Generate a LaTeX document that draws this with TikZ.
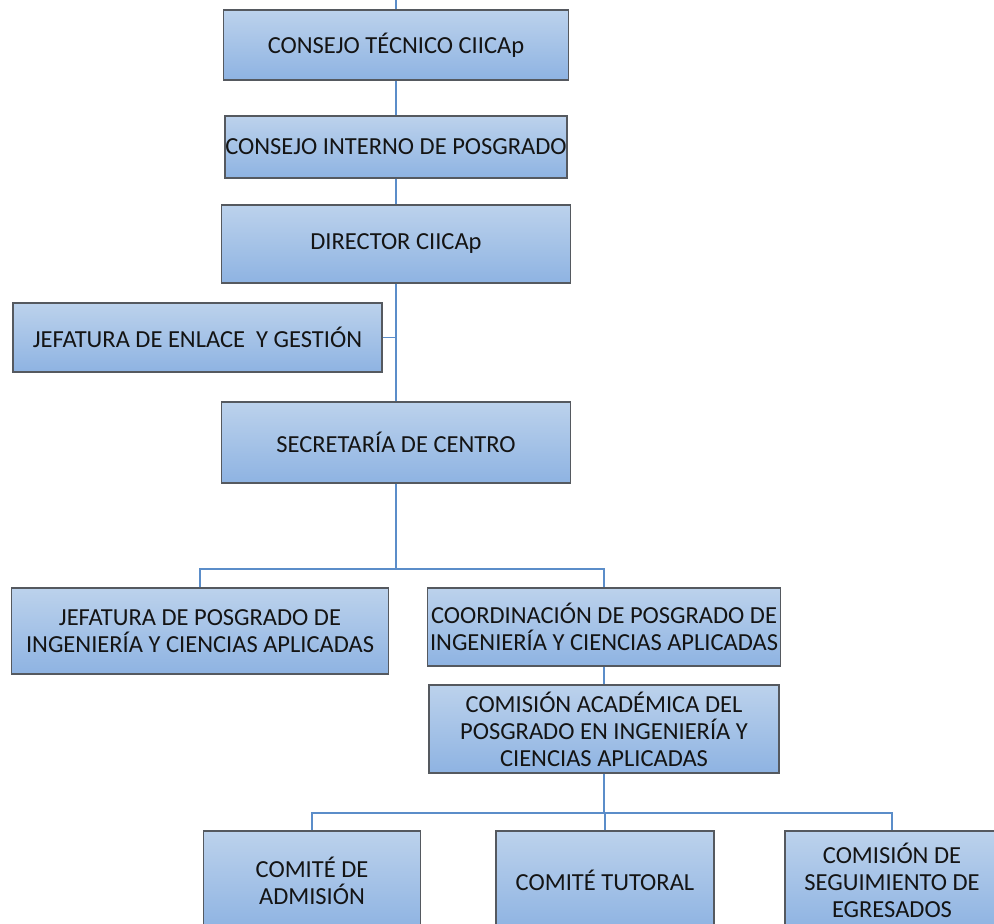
\documentclass[tikz,border=0pt]{standalone}
\usepackage{fontspec}
\setmainfont{Carlito}
\definecolor{boxtop}{HTML}{BCD2EC}
\definecolor{boxbot}{HTML}{8EB3E2}
\definecolor{boxline}{HTML}{55595F}
\definecolor{conn}{HTML}{5B8DC9}
\definecolor{txt}{HTML}{141414}
\tikzset{
  box/.style={rectangle, draw=boxline, line width=1.4pt, top color=boxtop, bottom color=boxbot,
    inner sep=0pt, align=center, text=txt, font=\fontsize{24.5}{27}\selectfont},
  link/.style={draw=conn, line width=1.7pt}
}
\begin{document}
\begin{tikzpicture}[x=1pt,y=-1pt]
\useasboundingbox (0,0) rectangle (994,924);
\clip (0,0) rectangle (994,924);
% nodes
\node[box, minimum width=345pt, minimum height=70pt] (b1) at (396,45) {CONSEJO TÉCNICO CIICAp};
\node[box, minimum width=342pt, minimum height=62pt] (b2) at (396,147) {CONSEJO INTERNO DE POSGRADO};
\node[box, minimum width=349pt, minimum height=78pt] (b3) at (396,244) {DIRECTOR CIICAp};
\node[box, minimum width=369pt, minimum height=69pt] (je) at (197.5,337.5) {JEFATURA DE ENLACE \ Y GESTIÓN};
\node[box, minimum width=349pt, minimum height=81pt] (sc) at (396,442.5) {SECRETARÍA DE CENTRO};
\node[box, minimum width=377pt, minimum height=86pt] (jp) at (200,631) {JEFATURA DE POSGRADO DE\\INGENIERÍA Y CIENCIAS APLICADAS};
\node[box, minimum width=353pt, minimum height=78pt] (co) at (604,627) {COORDINACIÓN DE POSGRADO DE\\INGENIERÍA Y CIENCIAS APLICADAS};
\node[box, minimum width=350pt, minimum height=88pt] (ca) at (604,729) {COMISIÓN ACADÉMICA DEL\\POSGRADO EN INGENIERÍA Y\\CIENCIAS APLICADAS};
\node[box, minimum width=217pt, minimum height=99pt] (c1) at (312,880.5) {COMITÉ DE\\ADMISIÓN};
\node[box, minimum width=218pt, minimum height=99pt] (c2) at (605,880.5) {COMITÉ TUTORAL};
\node[box, minimum width=214pt, minimum height=99pt] (c3) at (892,880.5) {COMISIÓN DE\\SEGUIMIENTO DE\\EGRESADOS};
% connectors
\coordinate (top) at (396,0);
\coordinate (f1) at (396,569);
\coordinate (f2) at (604,813);
\draw[link] (top) -- (b1.north);
\draw[link] (b1.south) -- (b2.north);
\draw[link] (b2.south) -- (b3.north);
\draw[link] (b3.south) -- (sc.north);
\draw[link] (je.east) -- (je.east -| sc.north);
\draw[link] (sc.south) -- (f1);
\draw[link] (jp.north) -- (jp.north |- f1) -- (co.north |- f1) -- (co.north);
\draw[link] (co.south) -- (ca.north);
\draw[link] (ca.south) -- (ca.south |- f2);
\draw[link] (c1.north) -- (c1.north |- f2) -- (c3.north |- f2) -- (c3.north);
\draw[link] (c2.north) -- (c2.north |- f2);
\end{tikzpicture}
\end{document}
